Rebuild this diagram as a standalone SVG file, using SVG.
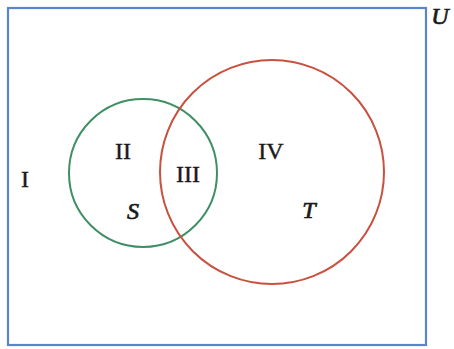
<svg xmlns="http://www.w3.org/2000/svg" width="454" height="349" viewBox="0 0 454 349">
<style>
.t{font-family:"Liberation Serif","Times New Roman",serif;font-size:24px;fill:#1a1a1a;stroke:#1a1a1a;stroke-width:0.4;text-anchor:middle}
.i{font-style:italic;stroke-width:0.7}
</style>
<rect width="454" height="349" fill="#fff"/>
<g id="universe">
<rect x="8" y="8" width="418" height="337" fill="none" stroke="#5b84cc" stroke-width="2.2"/>
<text class="t i" x="440" y="24">U</text>
<text class="t" x="25" y="187">I</text>
</g>
<g id="S">
<circle cx="143" cy="173" r="74" fill="none" stroke="#3f8f65" stroke-width="2"/>
<text class="t" x="123" y="159">II</text>
<text class="t i" x="133" y="219">S</text>
</g>
<g id="T">
<circle cx="272" cy="172" r="112" fill="none" stroke="#c8513f" stroke-width="2"/>
<text class="t" x="271" y="159">IV</text>
<text class="t i" x="309" y="218">T</text>
</g>
<g id="intersection">
<text class="t" x="188" y="182">III</text>
</g>
</svg>
